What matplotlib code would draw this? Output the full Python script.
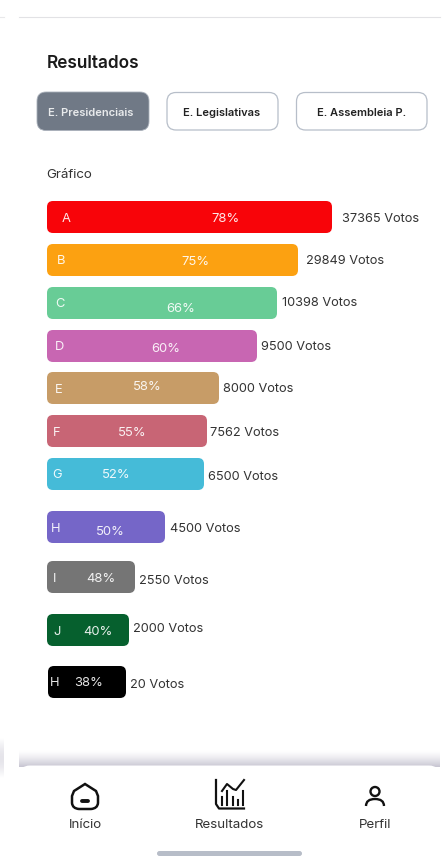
import numpy as np
import matplotlib.pyplot as plt
from matplotlib.patches import FancyBboxPatch, Circle, PathPatch
from matplotlib.path import Path

W, H = 448, 859
TEXT_DY = 1.5

plt.rcParams["font.family"] = ["Inter", "DejaVu Sans"]

letters = ["A", "B", "C", "D", "E", "F", "G", "H", "I", "J", "H"]
percents = [78, 75, 66, 60, 58, 55, 52, 50, 48, 40, 38]
votes = [37365, 29849, 10398, 9500, 8000, 7562, 6500, 4500, 2550, 2000, 20]
bar_lengths = [285, 251, 230, 210, 172, 160, 157, 118, 88, 82, 78]
colors = ["#F80409", "#FCA111", "#68CC96", "#C866B2", "#C79C67", "#C86575",
          "#45BBD8", "#7566C8", "#757575", "#06602E", "#000000"]
tabs = ["E. Presidenciais", "E. Legislativas", "E. Assembleia P."]
nav_labels = ["Início", "Resultados", "Perfil"]

bar_tops = [201, 244, 287, 330, 372, 415, 458, 511, 561, 614, 666]
letter_x = [66, 61, 60, 59, 59, 57, 57, 56, 55, 57, 55]
letter_y = [218, 260, 303, 346, 389, 432, 474, 528, 578, 631, 682]
pct_x = [225, 195, 181, 166, 147, 132, 116, 110, 101, 98, 89]
pct_y = [218, 261, 308, 348, 386, 432, 474, 531, 578, 631, 682]
vote_x = [342, 306, 282, 261, 223, 210, 208, 170, 139, 133, 130]
vote_y = [217, 259, 302, 345, 388, 431, 475, 527, 579, 628, 683]


def rounded(ax, x, y, w, h, r, **kw):
    box = FancyBboxPatch((x + r, y + r), w - 2 * r, h - 2 * r,
                         boxstyle=f"round,pad={r},rounding_size={r}", **kw)
    ax.add_patch(box)
    return box


fig = plt.figure(figsize=(W / 100, H / 100), dpi=100)
ax = fig.add_axes([0, 0, 1, 1])
ax.set_xlim(0, W)
ax.set_ylim(H, 0)
ax.axis("off")

# Header rule
ax.plot([19, 440], [16.5, 16.5], color="#E2E2E5", lw=0.8)
ax.plot([0, 4], [16.5, 16.5], color="#E8E8EA", lw=0.8)

ax.text(47, 62 + TEXT_DY, "Resultados", fontsize=12.4, fontweight="semibold",
        color="#1A1A1A", va="center")

# Tabs
tab_x = [37, 167, 296.5]
tab_w = [112, 111, 130.5]
for i, label in enumerate(tabs):
    if i == 0:
        rounded(ax, tab_x[i], 92, tab_w[i], 38.5, 9, fc="#707986", ec="#A9B0BA", lw=0.6)
        c = "#E8EAEC"
    else:
        rounded(ax, tab_x[i], 92.5, tab_w[i], 37.5, 9, fc="white", ec="#B7BEC9", lw=0.9)
        c = "#222222"
    ax.text(tab_x[i] + tab_w[i] / 2 - 0.5 + (0 if i else -2), 111 + TEXT_DY, label,
            fontsize=8, fontweight="semibold", color=c, ha="center", va="center")

ax.text(46.5, 174 + TEXT_DY, "Gráfico", fontsize=9.6, color="#333333", va="center")

# Bars
for i, length in enumerate(bar_lengths):
    left = 48 if i == 10 else 47
    rounded(ax, left, bar_tops[i], length, 32, 6, fc=colors[i], ec="none")
    ax.text(letter_x[i], letter_y[i] + TEXT_DY / 2, letters[i], fontsize=9.3, color="white",
            alpha=0.9, ha="center", va="center")
    ax.text(pct_x[i], pct_y[i] + TEXT_DY / 2, f"{percents[i]}%", fontsize=9.4, color="white",
            alpha=0.9, ha="center", va="center")
    ax.text(vote_x[i], vote_y[i] + TEXT_DY, f"{votes[i]} Votos", fontsize=9.2,
            color="#333333", va="center")

# Soft shadow above the navigation bar
shadow = np.ones((64, 1, 4))
shadow[:, :, :3] = np.array([0.78, 0.77, 0.82])
shadow[:, 0, 3] = np.linspace(0, 1, 64) ** 1.4
ax.imshow(shadow, extent=(19, 440, 767, 750), aspect="auto", zorder=2)

# Fainter strip along the left edge, fading out at both ends
strip = np.ones((64, 1, 4))
strip[:, :, :3] = np.array([0.78, 0.77, 0.82])
strip[:, 0, 3] = 0.45 * np.sin(np.linspace(0, np.pi, 64))
ax.imshow(strip, extent=(0, 4, 778, 738), aspect="auto", zorder=2)
ax.set_xlim(0, W)
ax.set_ylim(H, 0)

# Navigation bar
rounded(ax, 19, 765.5, 421, 120, 11, fc="white", ec="none", zorder=3)

# Home icon
home_pts = [(72, 796), (74, 791), (85, 784), (96, 791), (98, 796), (98, 803),
            (97.5, 808.5), (91, 809), (79, 809), (72.5, 808.5), (72, 803), (72, 796)]
home_codes = [Path.MOVETO, Path.LINETO, Path.LINETO, Path.LINETO, Path.LINETO, Path.LINETO,
              Path.CURVE3, Path.CURVE3, Path.LINETO, Path.CURVE3, Path.CURVE3, Path.CLOSEPOLY]
ax.add_patch(PathPatch(Path(home_pts, home_codes), fc="none", ec="#111111", lw=1.8, zorder=4))
ax.plot([81.5, 88], [800.5, 800.5], color="#111111", lw=2.8, solid_capstyle="round", zorder=4)

# Results icon
ax.plot([216, 216, 219, 244], [780, 804, 808.5, 808.5], color="#111111", lw=1.6, zorder=4)
ax.plot([222, 227, 233, 236, 244], [791, 784, 789, 790, 780], color="#111111", lw=1.5, zorder=4)
for bx, btop in zip([221.5, 227, 232.5, 238, 243],
                    [797, 791, 797, 800, 791]):
    ax.plot([bx, bx], [btop, 804.5], color="#111111", lw=1.5, zorder=4)

# Profile icon
ax.add_patch(Circle((375, 791.5), 4.5, fc="none", ec="#111111", lw=1.7, zorder=4))
ax.add_patch(PathPatch(Path([(366, 806), (366, 799), (375, 799), (384, 799), (384, 806)],
                            [Path.MOVETO, Path.CURVE3, Path.CURVE3, Path.CURVE3, Path.CURVE3]),
                       fc="none", ec="#111111", lw=1.7, zorder=4))

for x, label in zip([85, 229.5, 375], nav_labels):
    ax.text(x, 823.5 + TEXT_DY, label, fontsize=9.6, color="#333333",
            ha="center", va="center", zorder=4)

# Home indicator
rounded(ax, 157, 851, 145, 5, 2.5, fc="#B7BDC8", ec="none", zorder=4)

fig.savefig("out.png", dpi=100, facecolor="white")
